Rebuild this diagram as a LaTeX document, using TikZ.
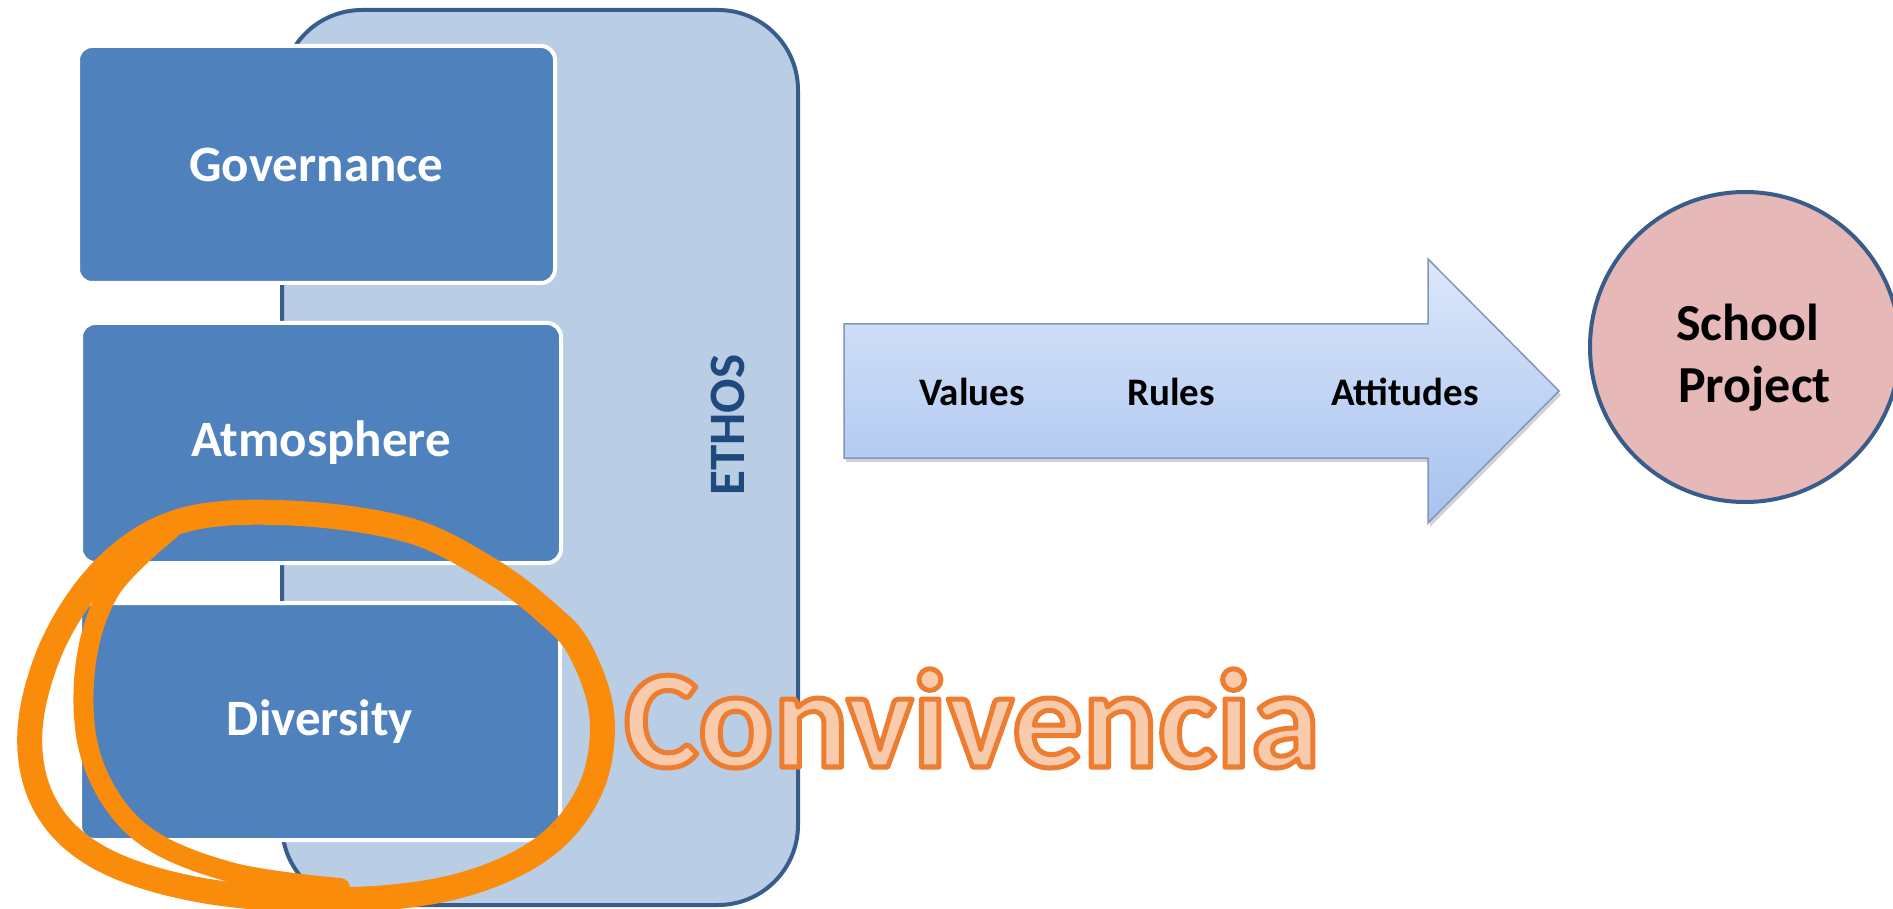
\documentclass[tikz,border=0pt]{standalone}
\usepackage{fontspec}
\setmainfont{Carlito}
\usetikzlibrary{shapes.geometric,shadows}
\definecolor{boxblue}{HTML}{4F81BD}
\definecolor{ethosfill}{HTML}{B9CDE5}
\definecolor{ethosdraw}{HTML}{385D8A}
\definecolor{ethostext}{HTML}{1F497D}
\definecolor{looporange}{RGB}{250,140,12}
\definecolor{convfill}{HTML}{F8CBAD}
\definecolor{arrowtop}{HTML}{DCE7FA}
\definecolor{arrowbot}{HTML}{A6C2EF}
\definecolor{arrowline}{RGB}{130,150,185}
\definecolor{circfill}{HTML}{E6B9B8}
\newcommand\outlinedtext[1]{\special{pdf:literal direct 2 Tr 5 w 1 j 0.929 0.490 0.192 RG}#1\special{pdf:literal direct 0 Tr}}
\begin{document}
\begin{tikzpicture}[x=1pt,y=1pt,
  ethosbox/.style={draw=ethosdraw,fill=ethosfill,line width=4pt,rounded corners=80pt,inner sep=0pt},
  bluebox/.style={draw=white,fill=boxblue,line width=4pt,rounded corners=14pt,
    text=white,font=\fontsize{51}{61}\selectfont\bfseries,inner sep=0pt},
  arrowlabel/.style={font=\fontsize{39}{46}\selectfont\bfseries,text=black,anchor=base,inner sep=0pt},
  circlabel/.style={font=\fontsize{52}{62}\selectfont\bfseries,text=black,anchor=base,inner sep=0pt},
  brush/.style={draw=looporange,line width=25pt,line cap=round,line join=round}
]
\useasboundingbox (0,0) rectangle (1893,-909);
\fill[white] (0,0) rectangle (1893,-909);

% ETHOS frame
\node[ethosbox,minimum width=516,minimum height=895] (ethos) at (540,-457.5) {};
\node[rotate=90,text=ethostext,font=\fontsize{51}{61}\selectfont\bfseries,inner sep=0pt] (ethoslabel) at (728,-425) {ETHOS};

% three blocks
\node[bluebox,minimum width=477,minimum height=237] (gov) at (316.5,-164.5) {Governance};
\node[bluebox,minimum width=480,minimum height=240] (atm) at (321,-443) {Atmosphere};
\node[bluebox,minimum width=480,minimum height=237] (div) at (320,-721.5) {Diversity};

% block arrow
\path[drop shadow={shadow xshift=2pt,shadow yshift=-4pt,opacity=0.35}]
  (844,-324) -- (1428,-324) -- (1428,-259) -- (1559,-391) -- (1428,-523) -- (1428,-458) -- (844,-458) -- cycle;
\draw[arrowline,line width=1.5pt,top color=arrowtop,bottom color=arrowbot]
  (844,-324) -- (1428,-324) -- (1428,-259) -- (1559,-391) -- (1428,-523) -- (1428,-458) -- (844,-458) -- cycle;
\node[arrowlabel] (values) at (972,-405) {Values};
\node[arrowlabel] (rules) at (1171,-405) {Rules};
\node[arrowlabel] (attitudes) at (1405,-405) {Attitudes};

% School Project
\node[circle,draw=ethosdraw,fill=circfill,line width=4pt,minimum size=310,inner sep=0pt] (school) at (1745,-347) {};
\node[circlabel] (schooltxt) at (1747.5,-341) {School};
\node[circlabel] (projecttxt) at (1754.5,-402) {Project};

% hand drawn orange loop
\draw[brush] plot[smooth cycle,tension=0.6] coordinates {
  (408,-530) (290,-513) (184,-520) (110,-563) (55,-640) (30,-730) (45,-805)
  (100,-858) (200,-890) (330,-900) (450,-888) (540,-850) (590,-790) (602,-717)
  (580,-650) (547,-613) (490,-570)};
\draw[brush,line width=20pt] plot[smooth,tension=0.6] coordinates {
  (170,-530) (110,-590) (85,-670) (92,-760) (140,-832) (230,-872) (340,-888)};

% Convivencia
\node[anchor=base,inner sep=0pt,text=convfill,font=\fontsize{140}{160}\selectfont\bfseries] (conv) at (972,-767) {\outlinedtext{Convivencia}};
\end{tikzpicture}
\end{document}
